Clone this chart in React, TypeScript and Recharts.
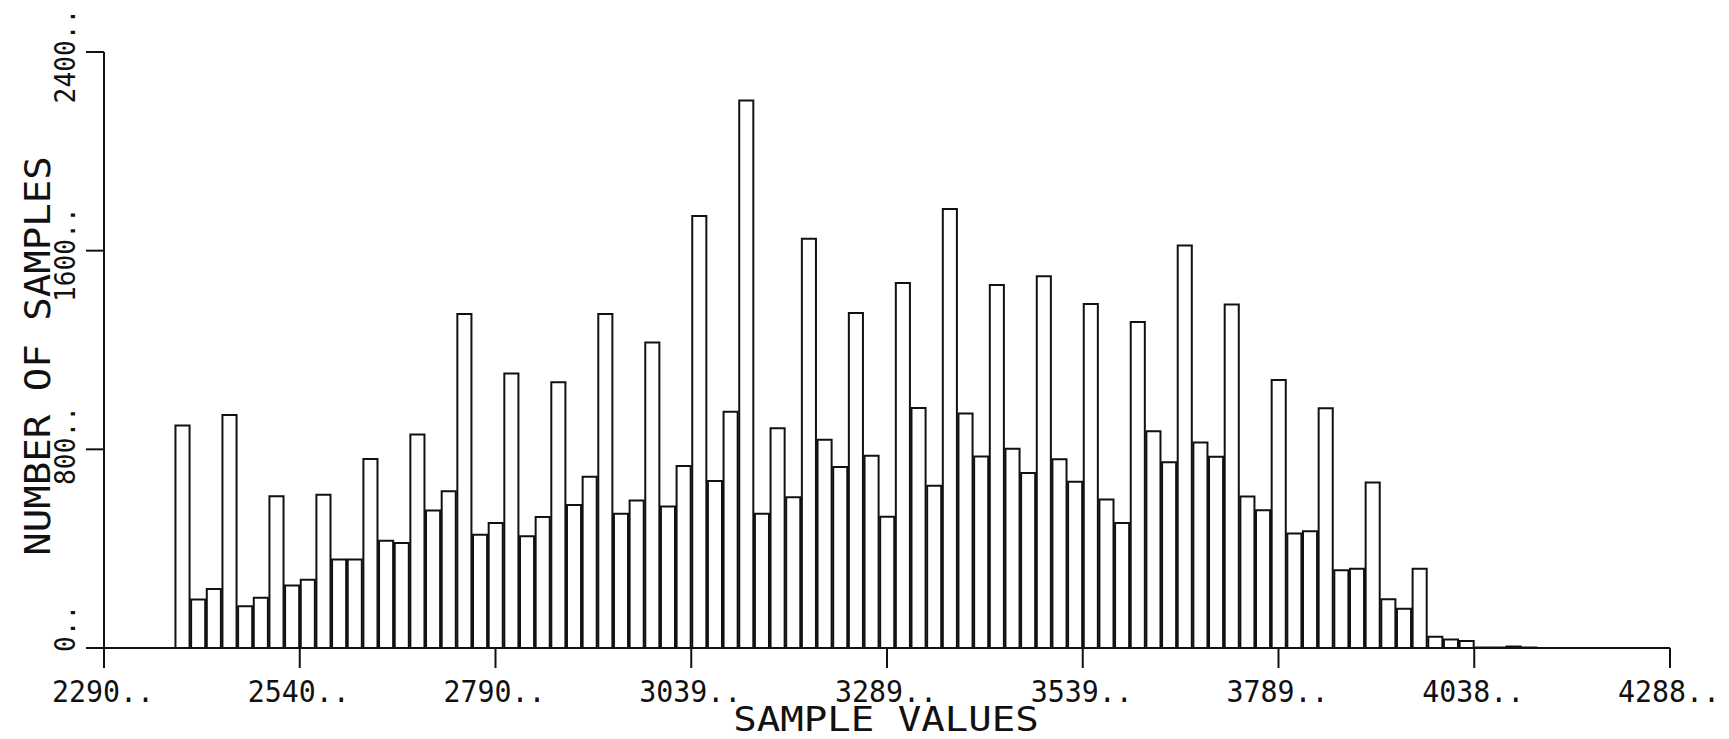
import React from "react";
import { Bar, BarChart, Label, XAxis, YAxis } from "recharts";

// histogram bins: first non-empty bin centre and bin width (sample value units)
const FIRST_BIN_CENTER = 2389.9;
const BIN_WIDTH = 19.98;

// number of samples per bin (left to right)
const COUNTS = [
  896, 195, 238, 938, 168, 202, 611, 252, 275, 617,
  356, 356, 761, 432, 423, 860, 554, 631, 1345, 456,
  503, 1105, 450, 528, 1070, 576, 690, 1345, 541, 594,
  1230, 570, 733, 1740, 672, 951, 2205, 541, 885, 607,
  1648, 839, 729, 1349, 774, 529, 1470, 966, 653, 1768,
  944, 771, 1462, 802, 705, 1497, 760, 669, 1385, 598,
  503, 1313, 873, 748, 1621, 828, 770, 1383, 610, 555,
  1079, 461, 470, 965, 313, 319, 666, 196, 158, 319,
  45, 34, 28, 2, 2, 6, 2,
];

const X_TICKS = [2290, 2539.75, 2789.5, 3039.25, 3289, 3538.75, 3788.5, 4038.25, 4288];
const X_TICK_LABELS = ["2290..", "2540..", "2790..", "3039..", "3289..", "3539..", "3789..", "4038..", "4288.."];
const Y_TICKS = [0, 800, 1600, 2400];
const Y_TICK_LABELS = ["0..", "800..", "1600..", "2400.."];

const W = 1729;
const H = 739;
const TOP = 52;
const RIGHT = 59;
const Y_AXIS_W = 104;
const X_AXIS_H = 91;
const X_MIN = 2290;
const X_MAX = 4288;

const FONT = '"DejaVu Sans Mono", monospace';
const INK = "#111";
const X_PITCH = 17;
const Y_PITCH = 15.8;

const data = COUNTS.map((count, i) => ({ x: FIRST_BIN_CENTER + i * BIN_WIDTH, count }));

const plotWidth = W - Y_AXIS_W - RIGHT;
const barPx = (BIN_WIDTH * plotWidth) / (X_MAX - X_MIN);
const plotBottom = H - X_AXIS_H;

type TextProps = {
  x: number;
  y: number;
  text: string;
  size: number;
  pitch: number;
  anchor?: "start" | "middle" | "end";
  rotate?: boolean;
};

function PlotText({ x, y, text, size, pitch, anchor = "start", rotate = false }: TextProps) {
  return (
    <text
      x={x}
      y={y}
      fontFamily={FONT}
      fontSize={size}
      fill={INK}
      textAnchor={anchor}
      textLength={text.length * pitch}
      lengthAdjust="spacingAndGlyphs"
      transform={rotate ? `rotate(-90 ${x} ${y})` : undefined}
    >
      {text}
    </text>
  );
}

// plotter labels: the units digit starts at the tick
function digitsOf(label: string) {
  return label.replace(/\./g, "").length;
}

function XTick(props: any) {
  const { payload } = props;
  const i = X_TICKS.indexOf(payload.value);
  const label = X_TICK_LABELS[i] ?? "";
  const cx = payload.coordinate;
  return (
    <PlotText
      x={cx - (digitsOf(label) - 1) * X_PITCH - 1}
      y={plotBottom + 54}
      text={label}
      size={30}
      pitch={X_PITCH}
    />
  );
}

function YTick(props: any) {
  const { payload } = props;
  const i = Y_TICKS.indexOf(payload.value);
  const label = Y_TICK_LABELS[i] ?? "";
  const cy = payload.coordinate;
  return (
    <PlotText
      x={75}
      y={cy + (digitsOf(label) - 1) * Y_PITCH + 4}
      text={label}
      size={29}
      pitch={Y_PITCH}
      rotate
    />
  );
}

export default function App() {
  return (
    <div style={{ position: "absolute", left: 0, top: 0, width: W, height: H, background: "#fff" }}>
      <BarChart
        width={W}
        height={H}
        data={data}
        margin={{ top: TOP, right: RIGHT, left: 0, bottom: 0 }}
        barCategoryGap={0}
        barGap={0}
      >
        <XAxis
          type="number"
          dataKey="x"
          domain={[X_MIN, X_MAX]}
          ticks={X_TICKS}
          interval={0}
          allowDataOverflow
          height={X_AXIS_H}
          tickSize={20}
          tickMargin={0}
          axisLine={{ stroke: INK, strokeWidth: 2 }}
          tickLine={{ stroke: INK, strokeWidth: 2 }}
          tick={<XTick />}
        >
          <Label
            content={() => (
              <PlotText x={886} y={731} text="SAMPLE VALUES" size={34} pitch={23.5} anchor="middle" />
            )}
          />
        </XAxis>
        <YAxis
          type="number"
          domain={[0, 2400]}
          ticks={Y_TICKS}
          interval={0}
          width={Y_AXIS_W}
          tickSize={18}
          tickMargin={0}
          axisLine={{ stroke: INK, strokeWidth: 2 }}
          tickLine={{ stroke: INK, strokeWidth: 2 }}
          tick={<YTick />}
        >
          <Label
            content={() => (
              <PlotText x={50} y={356} text="NUMBER OF SAMPLES" size={35} pitch={23.5} anchor="middle" rotate />
            )}
          />
        </YAxis>
        <Bar
          dataKey="count"
          fill="#fff"
          stroke={INK}
          strokeWidth={2}
          barSize={barPx}
          isAnimationActive={false}
        />
      </BarChart>
    </div>
  );
}
